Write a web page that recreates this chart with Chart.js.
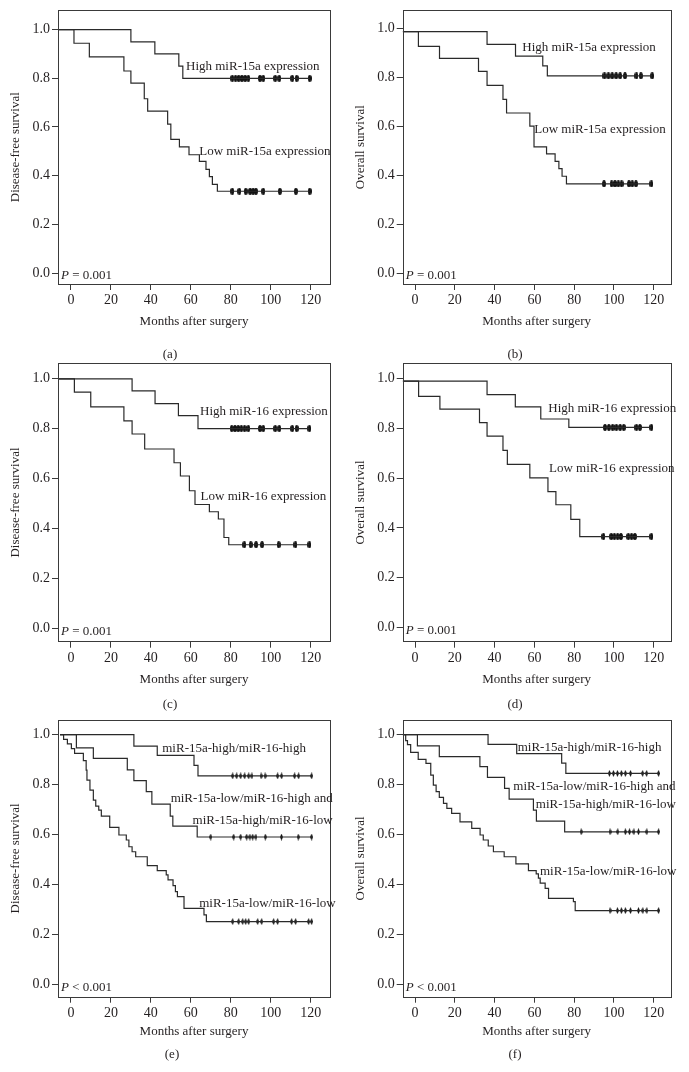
<!DOCTYPE html>
<html><head><meta charset="utf-8">
<script src="https://cdn.jsdelivr.net/npm/chart.js@4.4.0/dist/chart.umd.min.js"></script>
<style>
html,body{margin:0;padding:0;background:#fff;}
body{width:689px;height:1072px;position:relative;overflow:hidden;}
canvas{position:absolute;}
</style></head><body>
<script>
// ---------------- DATA ----------------
const xTicks = [0, 20, 40, 60, 80, 100, 120];
const yTicks = [0, 0.2, 0.4, 0.6, 0.8, 1.0];

// (a) Disease-free survival, miR-15a
const aHighT = [-6.5, 30, 42, 54, 56, 119.5];
const aHighS = [1, 0.95, 0.90, 0.85, 0.80, 0.80];
const aHighC = [80.8, 82.4, 84, 85.6, 87.2, 88.8, 94.6, 96.3, 102.3, 104.3, 110.8, 113, 119.5];
const aLowT = [-6.5, 1.5, 9.2, 26.5, 30, 36.7, 38.4, 48.4, 50, 54.3, 59.1, 64.3, 67.6, 69.3, 70.8, 73.3, 119.5];
const aLowS = [1, 0.944, 0.888, 0.83, 0.78, 0.716, 0.665, 0.612, 0.549, 0.518, 0.486, 0.459, 0.426, 0.396, 0.364, 0.336, 0.336];
const aLowC = [80.8, 84.3, 87.5, 89.7, 91.2, 92.6, 96.3, 104.6, 112.6, 119.5];

// (b) Overall survival, miR-15a
const bHighT = [-6.2, 36.2, 50.5, 64.2, 66.5, 119.2];
const bHighS = [0.988, 0.936, 0.888, 0.848, 0.807, 0.807];
const bHighC = [95.2, 97.2, 99.1, 101.1, 103.1, 105.5, 111.3, 113.5, 119.2];
const bLowT = [-6.2, 1.7, 12.3, 31.9, 36.2, 44.2, 46, 57.7, 59.8, 66.1, 70.4, 72.3, 73.9, 76.1, 118.8];
const bLowS = [0.988, 0.928, 0.879, 0.825, 0.768, 0.711, 0.655, 0.601, 0.516, 0.488, 0.457, 0.427, 0.396, 0.365, 0.365];
const bLowC = [95, 98.8, 100.5, 102.2, 103.8, 107.5, 109.2, 111, 118.8];

// (c) Disease-free survival, miR-16
const cHighT = [-6.5, 30.6, 42.1, 53.8, 63.6, 119.4];
const cHighS = [1, 0.952, 0.901, 0.853, 0.801, 0.801];
const cHighC = [80.5, 82.1, 83.7, 85.3, 86.9, 88.8, 94.6, 96.3, 102.3, 104.3, 110.8, 113, 119.4];
const cLowT = [-6.5, 1.7, 9.9, 26.5, 30.6, 36.9, 51.6, 54.8, 59.3, 62.1, 69.3, 73.8, 76.6, 79, 119.4];
const cLowS = [1, 0.947, 0.888, 0.832, 0.779, 0.719, 0.664, 0.611, 0.552, 0.497, 0.468, 0.439, 0.365, 0.336, 0.336];
const cLowC = [86.8, 90, 92.7, 95.7, 104, 112.4, 119.4];

// (d) Overall survival, miR-16
const dHighT = [-6.2, 36.2, 50.4, 63.2, 77.3, 118.8];
const dHighS = [0.99, 0.936, 0.887, 0.838, 0.804, 0.804];
const dHighC = [95.5, 97.4, 99.3, 101.2, 103.1, 104.9, 111.3, 113, 118.8];
const dLowT = [-6.2, 1.8, 12.5, 32.4, 36.2, 44.2, 46.4, 57.7, 66.8, 70.8, 78.3, 82.8, 118.8];
const dLowS = [0.99, 0.929, 0.878, 0.823, 0.769, 0.712, 0.655, 0.601, 0.546, 0.493, 0.434, 0.365, 0.365];
const dLowC = [94.7, 98.6, 100.2, 101.8, 103.5, 107.2, 108.8, 110.5, 118.8];

// (e) Disease-free survival, combined groups
const eHHT = [-5.5, 31.5, 43.2, 61.6, 63.6, 120.5];
const eHHS = [1, 0.954, 0.917, 0.877, 0.835, 0.835];
const eHHC = [81, 83, 85, 87, 89, 90.6, 95.2, 97.2, 103.5, 105.5, 112, 114, 120.5];
const eMidT = [-5.5, 2.7, 11.2, 28.2, 31.5, 37.7, 40.5, 49.7, 51, 63.2, 120.5];
const eMidS = [1, 0.947, 0.905, 0.859, 0.816, 0.772, 0.722, 0.674, 0.634, 0.590, 0.590];
const eMidC = [70, 81.5, 85, 88, 89.6, 91, 92.6, 97.3, 105.4, 113.8, 120.5];
const eLowT = [-5.5, -3.7, -1.8, 0.2, 1.8, 6.2, 7.6, 8.0, 9.5, 11.2, 12.4, 13.9, 15.2, 19.4, 24, 27.7, 29, 30.6, 32.4, 38.2, 43.2, 47.7, 48.6, 51.1, 52.3, 53.3, 56.6, 66.6, 67.8, 120.5];
const eLowS = [1, 0.981, 0.963, 0.944, 0.925, 0.896, 0.858, 0.818, 0.778, 0.738, 0.714, 0.698, 0.674, 0.629, 0.598, 0.578, 0.551, 0.531, 0.511, 0.475, 0.455, 0.438, 0.418, 0.395, 0.371, 0.351, 0.304, 0.278, 0.251, 0.251];
const eLowC = [81, 84, 86, 87.5, 89, 93.5, 95.5, 101.5, 103.5, 110.5, 112.5, 119, 120.5];

// (f) Overall survival, combined groups
const fHHT = [-6.2, 36.7, 51.1, 73.7, 75.8, 122.4];
const fHHS = [1, 0.961, 0.924, 0.886, 0.845, 0.845];
const fHHC = [97.7, 99.7, 101.7, 103.7, 105.7, 108.3, 114.4, 116.4, 122.4];
const fMidT = [-6.2, 1.2, 12.2, 32.6, 36.4, 45, 47.3, 59.5, 61, 75.2, 122.4];
const fMidS = [1, 0.955, 0.912, 0.872, 0.829, 0.785, 0.742, 0.698, 0.654, 0.611, 0.611];
const fMidC = [83.5, 98, 101.9, 105.7, 107.8, 110, 112.3, 116.5, 122.4];
const fLowT = [-6.2, -4.7, -3.8, -2.2, 1.6, 5.5, 7.9, 9.2, 10.6, 12.2, 14.3, 16, 18.4, 22.6, 28.5, 32.7, 34.3, 36.8, 39.4, 44.8, 50.7, 57, 60.9, 62, 62.9, 65.4, 67.1, 79.6, 80.5, 122.4];
const fLowS = [1, 0.976, 0.960, 0.929, 0.901, 0.885, 0.838, 0.798, 0.772, 0.749, 0.725, 0.705, 0.685, 0.651, 0.625, 0.598, 0.578, 0.554, 0.531, 0.511, 0.482, 0.455, 0.442, 0.425, 0.405, 0.384, 0.344, 0.331, 0.295, 0.295];
const fLowC = [98, 101.7, 103.7, 105.7, 108.3, 112.3, 114.5, 116.5, 122.4];

// ---------------- LAYOUT / STYLE ----------------
const FONT = "'Liberation Serif','Times New Roman',serif";
const TEXT = '#231f20';
const LINE = '#2a2a2a';
Chart.defaults.font.family = FONT;
Chart.defaults.color = TEXT;

const panels = [
  {id:'a', canvas:[0,0,345,365], box:[58,4,330,284], xr:[-6.5,129.7], yr:[-0.045,1.079], titleY:321.7,
   sub:['(a)',170,355], ytitle:'Disease-free survival', p:'= 0.001', mark:'ellipse',
   curves:[[aHighT,aHighS,aHighC],[aLowT,aLowS,aLowC]],
   labels:[['High miR-15a expression',57.6,0.85],['Low miR-15a expression',64.2,0.50]]},
  {id:'b', canvas:[345,0,344,365], box:[402.7,4,670.7,284], xr:[-6.2,128.5], yr:[-0.045,1.075], titleY:321.7,
   sub:['(b)',515,355], ytitle:'Overall survival', p:'= 0.001', mark:'ellipse',
   curves:[[bHighT,bHighS,bHighC],[bLowT,bLowS,bLowC]],
   labels:[['High miR-15a expression',53.9,0.922],['Low miR-15a expression',59.9,0.587]]},
  {id:'c', canvas:[0,340,345,375], box:[58,363.3,330,641.7], xr:[-6.5,129.7], yr:[-0.052,1.062], titleY:680,
   sub:['(c)',170,705], ytitle:'Disease-free survival', p:'= 0.001', mark:'ellipse',
   curves:[[cHighT,cHighS,cHighC],[cLowT,cLowS,cLowC]],
   labels:[['High miR-16 expression',64.6,0.868],['Low miR-16 expression',64.9,0.528]]},
  {id:'d', canvas:[345,340,344,375], box:[402.7,363.3,670.7,641.7], xr:[-6.2,128.5], yr:[-0.058,1.062], titleY:680,
   sub:['(d)',515,705], ytitle:'Overall survival', p:'= 0.001', mark:'ellipse',
   curves:[[dHighT,dHighS,dHighC],[dLowT,dLowS,dLowC]],
   labels:[['High miR-16 expression',67,0.881],['Low miR-16 expression',67.3,0.64]]},
  {id:'e', canvas:[0,690,345,382], box:[58,720,330,996.7], xr:[-6.5,129.7], yr:[-0.05,1.059], titleY:1032,
   sub:['(e)',172,1055], ytitle:'Disease-free survival', p:'< 0.001', mark:'diamond',
   curves:[[eHHT,eHHS,eHHC],[eMidT,eMidS,eMidC],[eLowT,eLowS,eLowC]],
   labels:[['miR-15a-high/miR-16-high',45.7,0.9455],['miR-15a-low/miR-16-high and',49.9,0.745],
           ['miR-15a-high/miR-16-low',60.9,0.654],['miR-15a-low/miR-16-low',64.2,0.3245]]},
  {id:'f', canvas:[345,690,344,382], box:[402.7,720,670.7,996.7], xr:[-6.2,128.5], yr:[-0.05,1.059], titleY:1032,
   sub:['(f)',515,1055], ytitle:'Overall survival', p:'< 0.001', mark:'diamond',
   curves:[[fHHT,fHHS,fHHC],[fMidT,fMidS,fMidC],[fLowT,fLowS,fLowC]],
   labels:[['miR-15a-high/miR-16-high',51.6,0.9495],['miR-15a-low/miR-16-high and',49.4,0.792],
           ['miR-15a-high/miR-16-low',60.7,0.722],['miR-15a-low/miR-16-low',62.8,0.451]]}
];

function makeMark(shape) {
  const c = document.createElement('canvas');
  const w = shape === 'ellipse' ? 4 : 3, h = 7;
  c.width = w; c.height = h;
  const g = c.getContext('2d');
  g.fillStyle = '#111';
  g.beginPath();
  if (shape === 'ellipse') g.ellipse(w/2, h/2, w/2, h/2, 0, 0, Math.PI*2);
  else { g.moveTo(w/2,0); g.lineTo(w,h/2); g.lineTo(w/2,h); g.lineTo(0,h/2); g.closePath(); }
  g.fill();
  return c;
}
function valueAt(T, S, t) {
  let v = S[0];
  for (let i = 0; i < T.length; i++) if (T[i] <= t) v = S[i];
  return v;
}
function makeOverlay(p) {
  return {
    id: 'overlay_' + p.id,
    afterDraw(chart) {
      const {ctx, chartArea: a, scales} = chart;
      const xs = scales.x, ys = scales.y;
      ctx.save();
      ctx.strokeStyle = '#3a3a3a'; ctx.lineWidth = 1;
      ctx.strokeRect(Math.round(a.left) + 0.5, Math.round(a.top) + 0.5,
                     Math.round(a.right - a.left), Math.round(a.bottom - a.top));
      ctx.fillStyle = TEXT; ctx.textBaseline = 'middle'; ctx.textAlign = 'left';
      ctx.font = '13px ' + FONT;
      p.labels.forEach(([txt, lx, ly]) => ctx.fillText(txt, xs.getPixelForValue(lx), ys.getPixelForValue(ly)));
      const px = a.left + 3, py = ys.getPixelForValue(-0.012);
      ctx.font = 'italic 13px ' + FONT; ctx.fillText('P', px, py);
      const w = ctx.measureText('P').width;
      ctx.font = '13px ' + FONT; ctx.fillText(' ' + p.p, px + w, py);
      // panel sub-label
      ctx.textAlign = 'center';
      ctx.fillText(p.sub[0], p.sub[1] - p.canvas[0], p.sub[2] - p.canvas[1]);
      ctx.restore();
    }
  };
}

const LH = 13 * 1.2;
panels.forEach(p => {
  const [cx, cy, cw, ch] = p.canvas;
  const [bl, bt, br, bb] = p.box;
  const cv = document.createElement('canvas');
  cv.width = cw; cv.height = ch;
  cv.style.left = cx + 'px'; cv.style.top = cy + 'px';
  document.body.appendChild(cv);
  const mark = makeMark(p.mark);
  const datasets = [];
  p.curves.forEach(([T, S, C]) => {
    datasets.push({
      data: T.map((t, i) => ({x: t, y: S[i]})),
      stepped: true, borderColor: LINE, borderWidth: 1.2, pointRadius: 0, fill: false
    });
    datasets.push({
      data: C.map(t => ({x: t, y: valueAt(T, S, t)})),
      showLine: false, pointStyle: mark, pointRadius: 3, pointHoverRadius: 3,
      borderColor: LINE, backgroundColor: LINE
    });
  });
  const yAxisW = bl - cx;
  const xAxisH = p.titleY + LH / 2 - bb;
  new Chart(cv, {
    type: 'line',
    data: {datasets},
    options: {
      responsive: false, animation: false, devicePixelRatio: 1,
      layout: {padding: {left: 0, top: bt - cy, right: cx + cw - br, bottom: cy + ch - (p.titleY + LH / 2)}},
      plugins: {legend: {display: false}, tooltip: {enabled: false}},
      events: [],
      scales: {
        x: {
          type: 'linear', min: p.xr[0], max: p.xr[1],
          afterBuildTicks: s => { s.ticks = xTicks.map(v => ({value: v})); },
          afterFit: s => { s.height = xAxisH; },
          ticks: {font: {size: 14}, padding: 2, maxRotation: 0, autoSkip: false, color: TEXT,
                  callback: v => String(v)},
          grid: {display: true, drawOnChartArea: false, drawTicks: true, tickLength: 6, color: '#3a3a3a', lineWidth: 1},
          border: {display: false},
          title: {display: true, text: 'Months after surgery', font: {size: 13}, padding: 0, color: TEXT}
        },
        y: {
          type: 'linear', min: p.yr[0], max: p.yr[1],
          afterBuildTicks: s => { s.ticks = yTicks.map(v => ({value: v})); },
          afterFit: s => { s.width = yAxisW; },
          ticks: {font: {size: 14}, padding: 2, autoSkip: false, color: TEXT,
                  callback: v => Number(v).toFixed(1)},
          grid: {display: true, drawOnChartArea: false, drawTicks: true, tickLength: 6, color: '#3a3a3a', lineWidth: 1},
          border: {display: false},
          title: {display: true, text: p.ytitle, font: {size: 13}, padding: {top: 15.3 - LH / 2, bottom: 0}, color: TEXT}
        }
      }
    },
    plugins: [makeOverlay(p)]
  });
});
</script>
</body></html>
